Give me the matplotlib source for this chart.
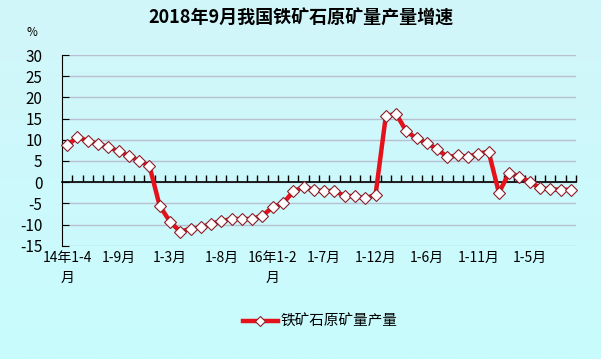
import matplotlib
matplotlib.use("Agg")
import matplotlib.pyplot as plt
import numpy as np
from matplotlib.ticker import FixedLocator

plt.rcParams['font.family'] = ['Noto Sans CJK SC', 'DejaVu Sans']
plt.rcParams['axes.unicode_minus'] = False

title = "2018年9月我国铁矿石原矿量产量增速"
series_name = "铁矿石原矿量产量"
unit = "%"

# periods: 2014 1-4 ... 2018 1-9 (50 points)
values = [8.7, 10.6, 9.8, 9.0, 8.3, 7.3, 6.2, 5.0, 3.9,
          -5.6, -9.3, -11.7, -11.0, -10.7, -9.8, -9.2, -8.7, -8.7, -8.7, -7.9,
          -5.9, -5.0, -2.2, -1.1, -1.8, -2.2, -2.0, -3.3, -3.3, -3.8, -3.0,
          15.6, 16.1, 12.0, 10.3, 9.2, 7.8, 5.9, 6.3, 6.0, 6.7, 7.2,
          -2.5, 2.2, 1.3, 0.1, -1.4, -1.7, -1.8, -1.8]
label_positions = [0, 5, 10, 15, 20, 25, 30, 35, 40, 45]
tick_labels = ["14年1-4\n月", "1-9月", "1-3月", "1-8月", "16年1-2\n月",
               "1-7月", "1-12月", "1-6月", "1-11月", "1-5月"]
y_ticks = [-15, -10, -5, 0, 5, 10, 15, 20, 25, 30]

fig = plt.figure(figsize=(6.01, 3.59), dpi=100)

# background gradient
bg = fig.add_axes([0, 0, 1, 1], zorder=-10)
grad = np.linspace(0, 1, 256).reshape(-1, 1)
top = np.array([210, 246, 250]) / 255
bot = np.array([200, 252, 253]) / 255
img = top[None, None, :] * (1 - grad[:, :, None]) + bot[None, None, :] * grad[:, :, None]
bg.imshow(img, aspect='auto', extent=[0, 1, 0, 1])
bg.axis('off')

ax = fig.add_axes([62/601, 1-245.7/359, (576-62)/601, (245.7-55)/359])
ax.patch.set_alpha(0)

x = np.arange(len(values))
line, = ax.plot(x, values, color='#e5121b', lw=3.2, marker='D', markersize=6.3,
                markerfacecolor='white', markeredgecolor='#8b1f2a', markeredgewidth=0.8,
                label=series_name, zorder=5, clip_on=False)

ax.set_xlim(-0.5, len(values) - 0.5)
ax.set_ylim(-15, 30)
ax.yaxis.set_major_locator(FixedLocator(y_ticks))
ax.grid(axis='y', color='#b8bfd0', lw=1.0)
ax.set_axisbelow(True)

for s in ['right', 'bottom']:
    ax.spines[s].set_visible(False)
ax.spines['left'].set_color('black')
ax.spines['top'].set_position(('data', 0))
ax.spines['top'].set_color('black')
ax.spines['top'].set_linewidth(1.2)
ax.spines['top'].set_zorder(3)

ax.xaxis.set_major_locator(FixedLocator(label_positions))
ax.set_xticklabels(tick_labels)
ax.xaxis.set_minor_locator(FixedLocator(np.arange(0.5, len(values), 1.0)))
ax.tick_params(axis='x', which='major', length=0, bottom=True, top=False,
               labelbottom=True, labeltop=False, pad=4, labelsize=10)
ax.tick_params(axis='x', which='minor', top=True, bottom=False, direction='out',
               length=5, width=1, color='black')
ax.tick_params(axis='y', direction='in', length=5, pad=14, labelsize=11)
for lab in ax.get_xticklabels():
    lab.set_linespacing(1.5)

fig.text(32/601, 1-33/359, unit, fontsize=8.5, ha='center', va='center')
fig.text(0.5, 1-18/359, title, fontsize=13, fontweight='bold', ha='center', va='center')

fig.legend(handles=[line], labels=[series_name], loc='center',
           bbox_to_anchor=(320/601, 1-322/359), frameon=False, fontsize=10.5,
           handlelength=2.4, handletextpad=0.2, markerscale=0.75)

fig.savefig("out.png", dpi=100)
